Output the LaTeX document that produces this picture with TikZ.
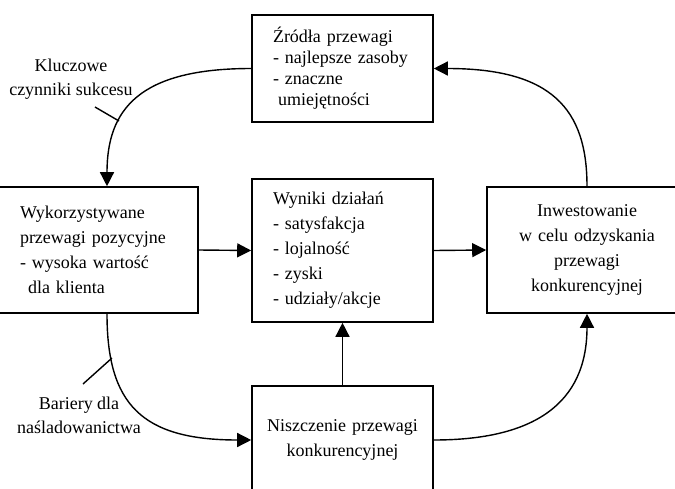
\documentclass[tikz,border=0pt]{standalone}
\usepackage{fontspec}
\setmainfont{Liberation Serif}
\usetikzlibrary{arrows.meta}

\tikzset{
  box/.style={draw, line width=1.6pt, inner ysep=0pt, font=\fontsize{18}{25}\selectfont},
  leftbox/.style={box, align=left, inner xsep=21pt},
  midbox/.style={box, align=center, inner xsep=8pt},
  conn/.style={line width=1.4pt, -{Triangle[length=14pt,width=14pt]}},
  lbl/.style={align=center, inner sep=0pt, font=\fontsize{18}{24}\selectfont},
  tick/.style={line width=1.4pt}
}

\begin{document}
\begin{tikzpicture}[x=1pt, y=-1pt]
  \useasboundingbox (0,0) rectangle (675,488);
  \clip (0,0) rectangle (675,488);

  % boxes
  \node[leftbox, text width=139pt, minimum width=181pt, minimum height=107pt,
        font=\fontsize{18}{21}\selectfont] (T) at (342.5,68.5)
    {Źródła przewagi\\- najlepsze zasoby\\- znaczne\\\hspace*{5pt}umiejętności};
  \node[leftbox, text width=139pt, minimum width=181pt, minimum height=143pt] (M) at (342.5,250.5)
    {Wyniki działań\\- satysfakcja\\- lojalność\\- zyski\\- udziały/akcje};
  \node[leftbox, text width=156pt, minimum width=200pt, minimum height=126pt] (L) at (98,250)
    {Wykorzystywane\\przewagi pozycyjne\\- wysoka wartość\\\hspace*{8pt}dla klienta};
  \node[midbox, text width=184pt, minimum width=200pt, minimum height=126pt] (R) at (587,250)
    {Inwestowanie\\w celu odzyskania\\przewagi\\konkurencyjnej};
  \node[midbox, text width=165pt, minimum width=181pt, minimum height=108pt] (B) at (342.5,440)
    {Niszczenie przewagi\\konkurencyjnej};

  % straight connectors
  \draw[conn] (L.east) -- (M.west);
  \draw[conn] (M.east) -- (R.west);
  \draw[conn] (B.north) -- (M.south);

  % curved connectors around the cycle
  \draw[conn] (T.west) .. controls +(-112,0) and +(0,-77) .. ([xshift=9pt]L.north);
  \draw[conn] (R.north) .. controls +(0,-77) and +(118,0) .. (T.east);
  \draw[conn] ([xshift=9pt]L.south) .. controls +(0,90) and +(-110,0) .. (B.west);
  \draw[conn] (B.east) .. controls +(100,0) and +(0,90) .. (R.south);

  % labels with leader ticks
  \node[lbl] (K) at (71,79) {Kluczowe\\czynniki sukcesu};
  \node[lbl] (Br) at (79,415) {Bariery dla\\naśladowanictwa};
  \coordinate (k1) at (95,107);
  \coordinate (k2) at (119,121);
  \coordinate (b1) at (83,384);
  \coordinate (b2) at (112,358);
  \draw[tick] (k1) -- (k2);
  \draw[tick] (b1) -- (b2);
\end{tikzpicture}
\end{document}
